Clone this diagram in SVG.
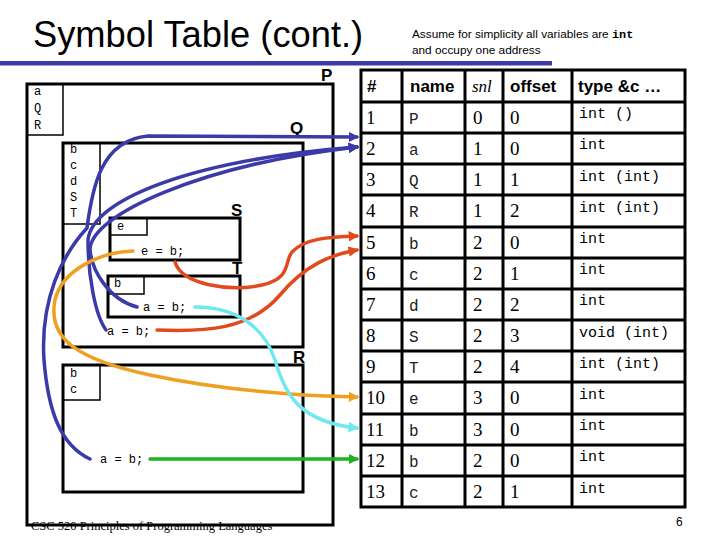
<svg xmlns="http://www.w3.org/2000/svg" width="720" height="540" viewBox="0 0 720 540">
<defs>
<style>
.box{fill:none;stroke:#000;stroke-width:3}
.thin{fill:none;stroke:#000;stroke-width:1.5}
.mono{font-family:"Liberation Mono","Courier New",monospace;font-size:12px;fill:#000}
.lbl{font-family:"Liberation Sans",Arial,sans-serif;font-weight:bold;font-size:17px;fill:#000}
.hd{font-family:"Liberation Sans",Arial,sans-serif;font-weight:bold;font-size:17px;fill:#000}
.num{font-family:"Liberation Serif","Times New Roman",serif;font-size:19px;fill:#000}
.nm{font-family:"Liberation Mono","Courier New",monospace;font-size:16px;fill:#222}
.ty{font-family:"Liberation Mono","Courier New",monospace;font-size:15px;fill:#000}
.grid{stroke:#000;stroke-width:3;fill:none}
.c{fill:none;stroke-width:3.5;stroke-linecap:round}
</style>
<marker id="ab" viewBox="0 0 10 10" refX="8" refY="5" markerWidth="3" markerHeight="3" orient="auto"><path d="M0,0 L10,5 L0,10 z" fill="#3a3aa8"/></marker>
<marker id="ar" viewBox="0 0 10 10" refX="8" refY="5" markerWidth="3" markerHeight="3" orient="auto"><path d="M0,0 L10,5 L0,10 z" fill="#e04a1c"/></marker>
<marker id="ao" viewBox="0 0 10 10" refX="8" refY="5" markerWidth="3" markerHeight="3" orient="auto"><path d="M0,0 L10,5 L0,10 z" fill="#f0a020"/></marker>
<marker id="ac" viewBox="0 0 10 10" refX="8" refY="5" markerWidth="3" markerHeight="3" orient="auto"><path d="M0,0 L10,5 L0,10 z" fill="#70e8f0"/></marker>
<marker id="ag" viewBox="0 0 10 10" refX="8" refY="5" markerWidth="3" markerHeight="3" orient="auto"><path d="M0,0 L10,5 L0,10 z" fill="#20b020"/></marker>
</defs>
<rect width="720" height="540" fill="#fff"/>
<g id="title">
<text x="33" y="47" font-family="Liberation Sans,Arial,sans-serif" font-size="36.3px" fill="#000">Symbol Table (cont.)</text>
<rect x="0" y="61" width="552" height="4.5" fill="#3a3aa8"/>
<text x="412" y="38" font-family="Liberation Sans,Arial,sans-serif" font-size="11.8px" fill="#000">Assume for simplicity all variables are <tspan font-family="Liberation Mono,Courier New,monospace" font-weight="bold">int</tspan></text>
<text x="412" y="54" font-family="Liberation Sans,Arial,sans-serif" font-size="11.8px" fill="#000">and occupy one address</text>
</g>
<g id="P">
<rect class="box" x="27" y="84" width="306" height="441"/>
<rect class="thin" x="27" y="84" width="36" height="51"/>
<text class="mono" x="34" y="95">a</text>
<text class="mono" x="34" y="112">Q</text>
<text class="mono" x="34" y="129">R</text>
<text class="lbl" x="321" y="81">P</text>
</g>
<g id="Q">
<rect class="box" x="63" y="143" width="240" height="204"/>
<rect class="thin" x="63" y="143" width="37" height="81"/>
<text class="mono" x="70" y="153">b</text>
<text class="mono" x="70" y="169">c</text>
<text class="mono" x="70" y="185">d</text>
<text class="mono" x="70" y="201">S</text>
<text class="mono" x="70" y="217">T</text>
<text class="lbl" x="290" y="134">Q</text>
<text class="mono" x="107" y="335">a = b;</text>
</g>
<g id="S">
<rect class="box" x="110" y="218" width="130" height="42"/>
<rect class="thin" x="110" y="218" width="37" height="17"/>
<text class="mono" x="117" y="230">e</text>
<text class="lbl" x="231" y="216">S</text>
<text class="mono" x="141" y="255">e = b;</text>
</g>
<g id="T">
<rect class="box" x="108" y="276" width="132" height="41"/>
<rect class="thin" x="108" y="276" width="36" height="18"/>
<text class="mono" x="114" y="287">b</text>
<text class="lbl" x="232" y="274">T</text>
<text class="mono" x="143" y="311">a = b;</text>
</g>
<g id="R">
<rect class="box" x="63" y="365" width="240" height="127"/>
<rect class="thin" x="63" y="365" width="37" height="35"/>
<text class="mono" x="70" y="377">b</text>
<text class="mono" x="70" y="393">c</text>
<text class="lbl" x="293" y="363">R</text>
<text class="mono" x="100" y="463">a = b;</text>
</g>
<g id="table">
<rect class="grid" x="361" y="70" width="324" height="437"/>
<path class="grid" d="M402,70V507M465,70V507M503,70V507M572,70V507"/>
<path class="grid" d="M361,102H685M361,133H685M361,164H685M361,195H685M361,227H685M361,258H685M361,289H685M361,320H685M361,351H685M361,382H685M361,414H685M361,445H685M361,476H685"/>
<text class="hd" x="367" y="92">#</text>
<text class="hd" x="410" y="92">name</text>
<text x="472" y="92" font-family="Liberation Serif,Times New Roman,serif" font-style="italic" font-size="17px" fill="#000">snl</text>
<text class="hd" x="510" y="92">offset</text>
<text class="hd" x="578" y="92">type &amp;c …</text>
<g class="num">
<text x="366" y="124">1</text><text x="366" y="155">2</text><text x="366" y="186">3</text><text x="366" y="217">4</text><text x="366" y="249">5</text><text x="366" y="280">6</text><text x="366" y="311">7</text><text x="366" y="342">8</text><text x="366" y="373">9</text><text x="366" y="404">10</text><text x="366" y="436">11</text><text x="366" y="467">12</text><text x="366" y="498">13</text>
<text x="473" y="124">0</text><text x="473" y="155">1</text><text x="473" y="186">1</text><text x="473" y="217">1</text><text x="473" y="249">2</text><text x="473" y="280">2</text><text x="473" y="311">2</text><text x="473" y="342">2</text><text x="473" y="373">2</text><text x="473" y="404">3</text><text x="473" y="436">3</text><text x="473" y="467">2</text><text x="473" y="498">2</text>
<text x="510" y="124">0</text><text x="510" y="155">0</text><text x="510" y="186">1</text><text x="510" y="217">2</text><text x="510" y="249">0</text><text x="510" y="280">1</text><text x="510" y="311">2</text><text x="510" y="342">3</text><text x="510" y="373">4</text><text x="510" y="404">0</text><text x="510" y="436">0</text><text x="510" y="467">0</text><text x="510" y="498">1</text>
</g>
<g class="nm">
<text x="409" y="124">P</text><text x="409" y="155">a</text><text x="409" y="186">Q</text><text x="409" y="217">R</text><text x="409" y="249">b</text><text x="409" y="280">c</text><text x="409" y="311">d</text><text x="409" y="342">S</text><text x="409" y="373">T</text><text x="409" y="404">e</text><text x="409" y="436">b</text><text x="409" y="467">b</text><text x="409" y="498">c</text>
</g>
<g class="ty">
<text x="579" y="118">int ()</text><text x="579" y="149">int</text><text x="579" y="181">int (int)</text><text x="579" y="212">int (int)</text><text x="579" y="243">int</text><text x="579" y="274">int</text><text x="579" y="305">int</text><text x="579" y="337">void (int)</text><text x="579" y="368">int (int)</text><text x="579" y="399">int</text><text x="579" y="430">int</text><text x="579" y="461">int</text><text x="579" y="493">int</text>
</g>
</g>
<g id="connectors">
<path class="c" stroke="#3a3aa8" marker-end="url(#ab)" d="M90,459 C60,445 48,410 44,360 C40,300 62,255 87,228 C92,190 100,140 148,136 L357,137"/>
<path class="c" stroke="#3a3aa8" marker-end="url(#ab)" d="M106,330 C95,315 88,275 88,240 C92,200 190,160 357,147"/>
<path class="c" stroke="#3a3aa8" marker-end="url(#ab)" d="M137,307 C110,300 92,272 90,250 C90,215 200,165 357,147"/>
<path class="c" stroke="#e04a1c" marker-end="url(#ar)" d="M175,262 C182,285 230,292 262,285 C292,278 284,262 292,252 C305,238 330,237 357,236"/>
<path class="c" stroke="#e04a1c" marker-end="url(#ar)" d="M157,330 C205,332 250,330 280,295 C305,265 330,255 357,250"/>
<path class="c" stroke="#f0a020" marker-end="url(#ao)" d="M133,251 C100,252 62,270 55,300 C47,340 80,360 150,375 C220,390 300,396 357,397"/>
<path class="c" stroke="#70e8f0" marker-end="url(#ac)" d="M195,307 C240,307 265,330 275,360 C285,395 300,422 357,428"/>
<path class="c" stroke="#20b020" marker-end="url(#ag)" d="M150,459 L357,459"/>
</g>
<g id="footer">
<text x="31" y="530" font-family="Liberation Serif,Times New Roman,serif" font-size="12.5px" fill="#000">CSC 520 Principles of Programming Languages</text>
<text x="676" y="526" font-family="Liberation Sans,Arial,sans-serif" font-size="12px" fill="#000">6</text>
</g>
</svg>
